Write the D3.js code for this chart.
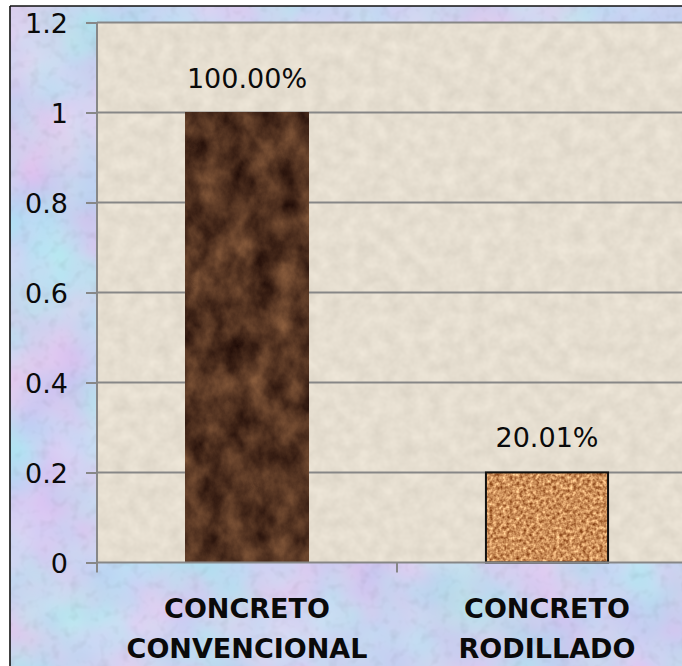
<!DOCTYPE html>
<html>
<head>
<meta charset="utf-8">
<script src="https://cdn.jsdelivr.net/npm/d3@7"></script>
<style>
  html, body { margin: 0; padding: 0; background: #ffffff; }
  svg { display: block; }
</style>
</head>
<body>
<svg id="chart" width="682" height="666"></svg>
<script>
// Categories, values and axis ticks
const categories = ["CONCRETO CONVENCIONAL", "CONCRETO RODILLADO"];
const values = [1.0, 0.2001];
const yTicks = [0, 0.2, 0.4, 0.6, 0.8, 1, 1.2];
const yTickLabels = ["0", "0.2", "0.4", "0.6", "0.8", "1", "1.2"];

const W = 682, H = 666;
const plot = { left: 97, top: 22.5, bottom: 562.5, right: 697 };

const svg = d3.select("#chart");
const defs = svg.append("defs");

// Textured fills built from noise filters
function noiseFilter(id, type, freq, octaves, seed, matrix) {
  const f = defs.append("filter").attr("id", id)
    .attr("x", 0).attr("y", 0).attr("width", 1).attr("height", 1)
    .attr("color-interpolation-filters", "sRGB");
  f.append("feTurbulence").attr("type", type).attr("baseFrequency", freq)
    .attr("numOctaves", octaves).attr("seed", seed).attr("result", "n");
  f.append("feColorMatrix").attr("in", "n").attr("type", "matrix").attr("values", matrix);
  return f;
}

// pastel blue / lavender / pink backdrop
const bg = defs.append("filter").attr("id", "bgTex")
  .attr("x", 0).attr("y", 0).attr("width", 1).attr("height", 1)
  .attr("color-interpolation-filters", "sRGB");
bg.append("feTurbulence").attr("type", "fractalNoise").attr("baseFrequency", 0.012)
  .attr("numOctaves", 3).attr("seed", 11).attr("result", "n1");
bg.append("feColorMatrix").attr("in", "n1").attr("type", "matrix")
  .attr("values", "0.28 -0.08 0 0 0.69  -0.08 0.20 0 0 0.77  0 0 0.06 0 0.91  0 0 0 0 1")
  .attr("result", "c1");
bg.append("feTurbulence").attr("type", "fractalNoise").attr("baseFrequency", 0.1)
  .attr("numOctaves", 2).attr("seed", 4).attr("result", "n2");
bg.append("feColorMatrix").attr("in", "n2").attr("type", "matrix")
  .attr("values", "0.14 0 0 0 0.93  0.14 0 0 0 0.93  0.14 0 0 0 0.93  0 0 0 0 1")
  .attr("result", "c2");
bg.append("feBlend").attr("in", "c1").attr("in2", "c2").attr("mode", "multiply");

// beige stone plot area
noiseFilter("plotTex", "fractalNoise", 0.07, 3, 5,
  "0.09 0 0 0 0.855  0.09 0 0 0 0.825  0.09 0 0 0 0.77  0 0 0 0 1");

// dark brown marble
noiseFilter("marbleTex", "fractalNoise", "0.04 0.03", 5, 21,
  "0.55 0 0 0 0.05  0.42 0 0 0 -0.01  0.28 0 0 0 -0.01  0 0 0 0 1");

// sandy granular fill
noiseFilter("sandTex", "fractalNoise", 0.3, 2, 9,
  "0.8 0 0 0 0.40  0.9 0 0 0 0.11  0.8 0 0 0 -0.05  0 0 0 0 1");

// outer chart background
svg.append("rect").attr("x", 10).attr("y", 6).attr("width", W).attr("height", H)
  .attr("fill", "#c8d4f0").attr("filter", "url(#bgTex)");

// plot area
svg.append("rect").attr("x", plot.left).attr("y", plot.top)
  .attr("width", plot.right - plot.left).attr("height", plot.bottom - plot.top)
  .attr("fill", "#e4dccf").attr("filter", "url(#plotTex)");

// Scales
const x = d3.scaleBand().domain(categories).range([plot.left, plot.right])
  .paddingInner(0.593).paddingOuter(0.2965);
const y = d3.scaleLinear().domain([0, 1.2]).range([plot.bottom, plot.top]);

const gridColor = "#878787";

// horizontal gridlines
svg.append("g").selectAll("line").data(yTicks.filter(d => d > 0)).join("line")
  .attr("x1", plot.left).attr("x2", plot.right)
  .attr("y1", d => y(d)).attr("y2", d => y(d))
  .attr("stroke", gridColor).attr("stroke-width", 2);

// bars
const texIds = ["marbleTex", "sandTex"];
const barG = svg.append("g");
barG.selectAll("rect.bar").data(categories).join("rect").attr("class", "bar")
  .attr("x", d => x(d)).attr("width", x.bandwidth())
  .attr("y", (d, i) => y(values[i])).attr("height", (d, i) => y(0) - y(values[i]))
  .attr("fill", "#5a3a24")
  .attr("filter", (d, i) => `url(#${texIds[i]})`);
// outline on the second bar
barG.selectAll("rect.edge").data(categories.slice(1)).join("rect").attr("class", "edge")
  .attr("x", d => x(d)).attr("width", x.bandwidth())
  .attr("y", d => y(values[categories.indexOf(d)]))
  .attr("height", d => y(0) - y(values[categories.indexOf(d)]))
  .attr("fill", "none").attr("stroke", "#111").attr("stroke-width", 2);

// y axis
const yAxis = d3.axisLeft(y).tickValues(yTicks)
  .tickFormat((d, i) => yTickLabels[i]).tickSize(11).tickSizeOuter(0).tickPadding(18);
const yg = svg.append("g").attr("transform", `translate(${plot.left},0)`).call(yAxis);
yg.select(".domain").attr("stroke", gridColor).attr("stroke-width", 2)
  .attr("d", `M0,${plot.top}V${plot.bottom + 10}`);
yg.selectAll(".tick line").attr("stroke", gridColor).attr("stroke-width", 2);
yg.selectAll(".tick text").attr("font-family", "DejaVu Sans, Verdana, sans-serif")
  .attr("font-size", 27).attr("fill", "#0a0a0a").attr("dy", "0.36em");

// x axis line with boundary ticks
const xg = svg.append("g");
xg.append("line").attr("x1", plot.left).attr("x2", plot.right)
  .attr("y1", y(0)).attr("y2", y(0)).attr("stroke", gridColor).attr("stroke-width", 2);
const bounds = categories.map(c => x(c) - x.step() * x.paddingInner() / 2);
xg.selectAll("line.bt").data(bounds.slice(1)).join("line").attr("class", "bt")
  .attr("x1", d => d).attr("x2", d => d)
  .attr("y1", y(0)).attr("y2", y(0) + 10)
  .attr("stroke", gridColor).attr("stroke-width", 2);

// category labels (two lines)
const catG = svg.append("g").attr("font-family", "DejaVu Sans, Verdana, sans-serif")
  .attr("font-weight", "bold").attr("font-size", 27).attr("fill", "#0a0a0a")
  .attr("text-anchor", "middle");
catG.selectAll("text").data(categories).join("text")
  .attr("x", d => x(d) + x.bandwidth() / 2)
  .attr("y", 618)
  .each(function (d) {
    const parts = d.split(" ");
    const t = d3.select(this);
    parts.forEach((p, k) => {
      t.append("tspan").attr("x", x(d) + x.bandwidth() / 2)
        .attr("dy", k === 0 ? 0 : 40).text(p);
    });
  });

// value labels
const fmt = d3.format(".2%");
svg.append("g").selectAll("text").data(categories).join("text")
  .attr("x", d => x(d) + x.bandwidth() / 2)
  .attr("y", (d, i) => y(values[i]) - 25)
  .attr("text-anchor", "middle")
  .attr("font-family", "DejaVu Sans, Verdana, sans-serif").attr("font-size", 27)
  .attr("fill", "#0a0a0a")
  .text((d, i) => fmt(values[i]));

// chart frame
svg.append("line").attr("x1", 10).attr("x2", 10).attr("y1", 6).attr("y2", H)
  .attr("stroke", "#111").attr("stroke-width", 1.6);
svg.append("line").attr("x1", 10).attr("x2", W).attr("y1", 6).attr("y2", 6)
  .attr("stroke", "#111").attr("stroke-width", 1.6);
</script>
</body>
</html>
